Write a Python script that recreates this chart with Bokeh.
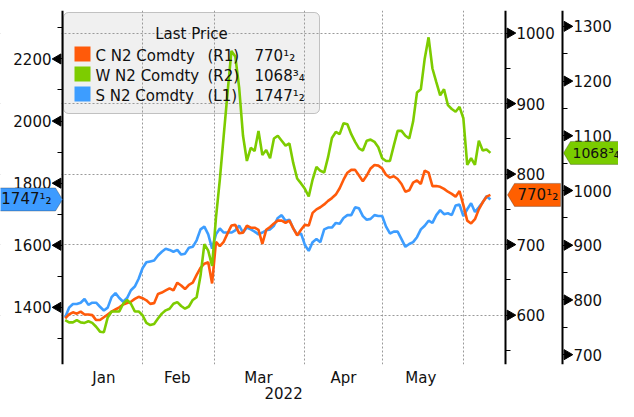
import math
from bokeh.plotting import figure
from bokeh.models import (Range1d, LinearAxis, SingleIntervalTicker, FixedTicker,
                          Label, BoxAnnotation, PolyAnnotation, Grid)
from bokeh.embed import file_html
from bokeh.resources import INLINE

# ---------------- data (daily closes, trading days from 3 Jan 2022) ----------------
months = ["Jan", "Feb", "Mar", "Apr", "May"]
month_starts = [20, 38.5, 62, 82, 103]      # trading-day index of each month boundary
month_mids = [10, 29, 50, 72, 92]           # where the month names sit
year_label = "2022"
year_pos = 56.5

left_ticks = [1400, 1600, 1800, 2000, 2200]
r1_ticks = [600, 700, 800, 900, 1000]
r2_ticks = [700, 800, 900, 1000, 1100, 1200, 1300]

series_names = ["C N2 Comdty", "W N2 Comdty", "S N2 Comdty"]
series_axes = ["(R1)", "(R2)", "(L1)"]
legend_title = "Last Price"

corn = [595.5, 601, 604, 602, 605, 601, 601, 600, 593, 593, 597, 601, 605, 608, 611, 615,
        617, 619, 623, 626, 624, 621, 616, 617, 630, 632, 635, 638, 635, 646, 642, 637,
        643, 646, 657, 667, 673, 675, 645, 704, 698, 704, 716, 727, 728, 716, 717, 727,
        724, 724, 721, 701, 721, 725, 730, 734, 734, 731, 734, 723, 713, 721, 728, 727,
        745, 750, 753, 757, 762, 766, 771, 780, 792, 802, 806, 806, 798, 790, 798, 808,
        813, 812, 808, 799, 795, 797, 793, 786, 775, 777, 788, 791, 786, 805, 802, 783,
        783, 782, 779, 775, 772, 768, 776, 756, 734, 730, 736, 750, 760, 768, 770.5]

wheat = [763, 759, 759, 763, 759, 758, 761, 758, 751, 742, 741, 768, 779, 779, 779, 793,
         800, 793, 779, 779, 772, 758, 754, 756, 766, 775, 781, 784, 793, 796, 789, 784,
         788, 800, 805, 844, 902, 890, 862, 950, 1020, 1100, 1179, 1255, 1245, 1188, 1100,
         1054, 1078, 1072, 1109, 1065, 1074, 1059, 1095, 1100, 1091, 1082, 1086, 1050,
         1022, 1013, 1003, 989, 1020, 1043, 1036, 1033, 1061, 1096, 1107, 1103, 1123,
         1121, 1103, 1089, 1077, 1073, 1091, 1093, 1089, 1079, 1059, 1054, 1054, 1082,
         1109, 1109, 1100, 1095, 1126, 1179, 1185, 1241, 1280, 1223, 1198, 1174, 1185,
         1156, 1149, 1144, 1153, 1132, 1047, 1059, 1047, 1091, 1073, 1075, 1068.75]

soy = [1368, 1399, 1411, 1411, 1415, 1427, 1408, 1415, 1415, 1402, 1390, 1399, 1433, 1446,
       1430, 1418, 1430, 1455, 1467, 1492, 1526, 1545, 1548, 1551, 1567, 1579, 1589, 1585,
       1579, 1585, 1570, 1573, 1592, 1595, 1616, 1651, 1660, 1635, 1589, 1635, 1654, 1641,
       1641, 1641, 1648, 1663, 1641, 1657, 1651, 1644, 1635, 1641, 1648, 1651, 1663, 1688,
       1697, 1679, 1682, 1654, 1635, 1638, 1601, 1582, 1610, 1620, 1610, 1651, 1657, 1657,
       1672, 1669, 1688, 1697, 1697, 1722, 1719, 1694, 1682, 1685, 1697, 1694, 1694, 1660,
       1638, 1644, 1644, 1620, 1595, 1604, 1610, 1626, 1651, 1663, 1679, 1672, 1697, 1713,
       1700, 1703, 1697, 1728, 1731, 1694, 1716, 1735, 1707, 1722, 1738, 1758, 1747.5]

# ---------------- styling ----------------
ORANGE, GREEN, BLUE = "#ff5a0a", "#7dcc00", "#3d9dff"
TAG_ORANGE, TAG_GREEN, TAG_BLUE = "#ff5f00", "#7acc00", "#3d9bff"
FONT = "DejaVu Sans"
FS = "15px"
INK = "#111111"
W, H = 618, 401

# data window of the plot area (pixel x 62..505) and the three value scales
X0, X1 = -0.7, 113.9
L_LO, L_HI = 1216, 2356
R1_LO, R1_HI = 530, 1032
R2_LO, R2_HI = 682, 1329
PA_L, PA_R, PA_T, PA_B = 62, 505, 10, 364      # plot area in canvas pixels
R2_X = 562                                       # second right axis position


def px_x(px):
    return X0 + (px - PA_L) / (PA_R - PA_L) * (X1 - X0)


def px_y(py, lo=L_LO, hi=L_HI):
    return hi - (py - PA_T) / (PA_B - PA_T) * (hi - lo)


def px_h(h, lo=L_LO, hi=L_HI):
    return h / (PA_B - PA_T) * (hi - lo)


def to_left(v, lo, hi):
    return L_LO + (v - lo) / (hi - lo) * (L_HI - L_LO)


def frac(v):
    whole = int(v)
    rest = round((v - whole) * 4)
    return str(whole) + {0: "", 1: "\u00b9\u2084", 2: "\u00b9\u2082", 3: "\u00b3\u2084"}[rest]


# the frame spans the whole canvas width; the value axes sit at fixed locations in it
p = figure(width=W, height=H, output_backend="svg", toolbar_location=None,
           x_range=Range1d(px_x(0), px_x(W)), y_range=Range1d(L_LO, L_HI),
           min_border_left=0, min_border_right=0, min_border_top=PA_T, min_border_bottom=0)
p.outline_line_color = None
p.extra_y_ranges = {"r1": Range1d(R1_LO, R1_HI), "r2": Range1d(R2_LO, R2_HI)}


def style_axis(ax, interval):
    ax.ticker = SingleIntervalTicker(interval=interval, num_minor_ticks=2)
    ax.axis_line_color = "black"
    ax.axis_line_width = 2
    ax.major_tick_line_color = None        # major ticks are drawn as triangles below
    ax.major_tick_out = 9
    ax.major_tick_in = 0
    ax.minor_tick_line_color = "black"
    ax.minor_tick_line_width = 1
    ax.minor_tick_out = 5
    ax.minor_tick_in = 0
    ax.major_label_text_font = FONT
    ax.major_label_text_font_size = FS
    ax.major_label_text_color = INK
    ax.major_label_standoff = 2


# grids: vertical at month boundaries, horizontal at the R1 ticks
p.xgrid.ticker = FixedTicker(ticks=month_starts)
p.xgrid.grid_line_color = "#9a9a9a"
p.xgrid.grid_line_dash = "2 2"
p.ygrid.visible = False
hgrid = Grid(dimension=1, ticker=SingleIntervalTicker(interval=100), y_range_name="r1",
             grid_line_color="#9a9a9a", grid_line_dash="2 2")
p.add_layout(hgrid)

# white margins so the grid stays inside the plot area
p.add_layout(BoxAnnotation(right=px_x(PA_L - 1), fill_color="white", fill_alpha=1,
                           line_color=None, level="underlay"))
p.add_layout(BoxAnnotation(left=px_x(PA_R + 1), fill_color="white", fill_alpha=1,
                           line_color=None, level="underlay"))

ya = p.yaxis[0]
style_axis(ya, 200)
ya.fixed_location = px_x(PA_L)

ax1 = LinearAxis(y_range_name="r1", fixed_location=px_x(PA_R))
style_axis(ax1, 100)
p.add_layout(ax1, "right")

ax2 = LinearAxis(y_range_name="r2", fixed_location=px_x(R2_X))
style_axis(ax2, 100)
p.add_layout(ax2, "right")

# triangular major tick marks pointing at the labels
p.scatter([px_x(PA_L - 4.5)] * len(left_ticks), left_ticks, marker="triangle", size=10,
          angle=math.pi / 2, color="black")
p.scatter([px_x(PA_R + 4.5)] * len(r1_ticks), r1_ticks, marker="triangle", size=10,
          angle=-math.pi / 2, color="black", y_range_name="r1")
p.scatter([px_x(R2_X + 4.5)] * len(r2_ticks), r2_ticks, marker="triangle", size=10,
          angle=-math.pi / 2, color="black", y_range_name="r2")

xa = p.xaxis[0]
xa.ticker = FixedTicker(ticks=month_mids)
xa.major_label_overrides = {m: lab for m, lab in zip(month_mids, months)}
for ax in (xa, LinearAxis()):
    ax.axis_line_color = None
    ax.major_tick_line_color = None
    ax.minor_tick_line_color = None
    ax.major_tick_out = 0
    ax.minor_tick_out = 0
    ax.major_label_text_font = FONT
    ax.major_label_text_font_size = FS
    ax.major_label_text_color = INK
    if ax is xa:
        ax.major_label_standoff = 4
    else:
        ax.ticker = FixedTicker(ticks=[year_pos])
        ax.major_label_overrides = {year_pos: year_label}
        ax.major_label_standoff = -3
        p.add_layout(ax, "below")

# legend panel (behind the lines)
p.add_layout(BoxAnnotation(left=px_x(63), right=px_x(319), top=px_y(12), bottom=px_y(113),
                           fill_color="#f0f0f0", fill_alpha=1, line_color="#444444",
                           line_width=1, border_radius=5, level="image"))

# lines
x = list(range(len(soy)))
p.line(x, soy, color=BLUE, line_width=2.6)
p.line(x, corn, color=ORANGE, line_width=2.6, y_range_name="r1")
p.line(x, wheat, color=GREEN, line_width=2.6, y_range_name="r2")

# legend content
p.add_layout(Label(x=px_x(191), y=px_y(33), text=legend_title, text_align="center",
                   text_baseline="middle", text_font=FONT, text_font_size=FS,
                   text_color=INK))
lasts = [corn[-1], wheat[-1], soy[-1]]
for k, (name, axn, col, last) in enumerate(zip(series_names, series_axes,
                                                [ORANGE, GREEN, BLUE], lasts)):
    yc = 54 + 20 * k
    p.add_layout(BoxAnnotation(left=px_x(74), right=px_x(90), top=px_y(yc - 8),
                               bottom=px_y(yc + 7), fill_color=col, fill_alpha=1,
                               line_color=None))
    for txt, xpos in [(name, 95), (axn, 207), (frac(last), 254)]:
        p.add_layout(Label(x=px_x(xpos), y=px_y(yc + 1), text=txt, text_align="left",
                           text_baseline="middle", text_font=FONT, text_font_size=FS,
                           text_color=INK))


# last-price tags (polygon in left-axis units, text in the series' own units)
def tag(val, lo, hi, rng, fill, xs_px, text_px, align, size):
    c = to_left(val, lo, hi)
    h = px_h(11.5)
    tip, a, b = xs_px
    p.add_layout(PolyAnnotation(xs=[px_x(tip), px_x(a), px_x(b), px_x(b), px_x(a)],
                                ys=[c, c + h, c + h, c - h, c - h],
                                fill_color=fill, fill_alpha=1, line_color="#222222",
                                line_width=1, level="overlay"))
    kw = {} if rng is None else {"y_range_name": rng}
    p.add_layout(Label(x=px_x(text_px), y=val, text=frac(val), text_align=align,
                       text_baseline="middle", text_font=FONT, text_font_size=size,
                       text_color=INK, level="overlay", **kw))


tag(soy[-1], L_LO, L_HI, None, TAG_BLUE, (PA_L, PA_L - 7, -5), 51, "right", "15px")
tag(corn[-1], R1_LO, R1_HI, "r1", TAG_ORANGE, (PA_R + 2, PA_R + 9, R2_X - 2), PA_R + 12,
    "left", "15px")
tag(wheat[-1], R2_LO, R2_HI, "r2", TAG_GREEN, (R2_X + 1, R2_X + 8, W + 5), R2_X + 10,
    "left", "14px")

open("out.html", "w").write(file_html(p, INLINE))
